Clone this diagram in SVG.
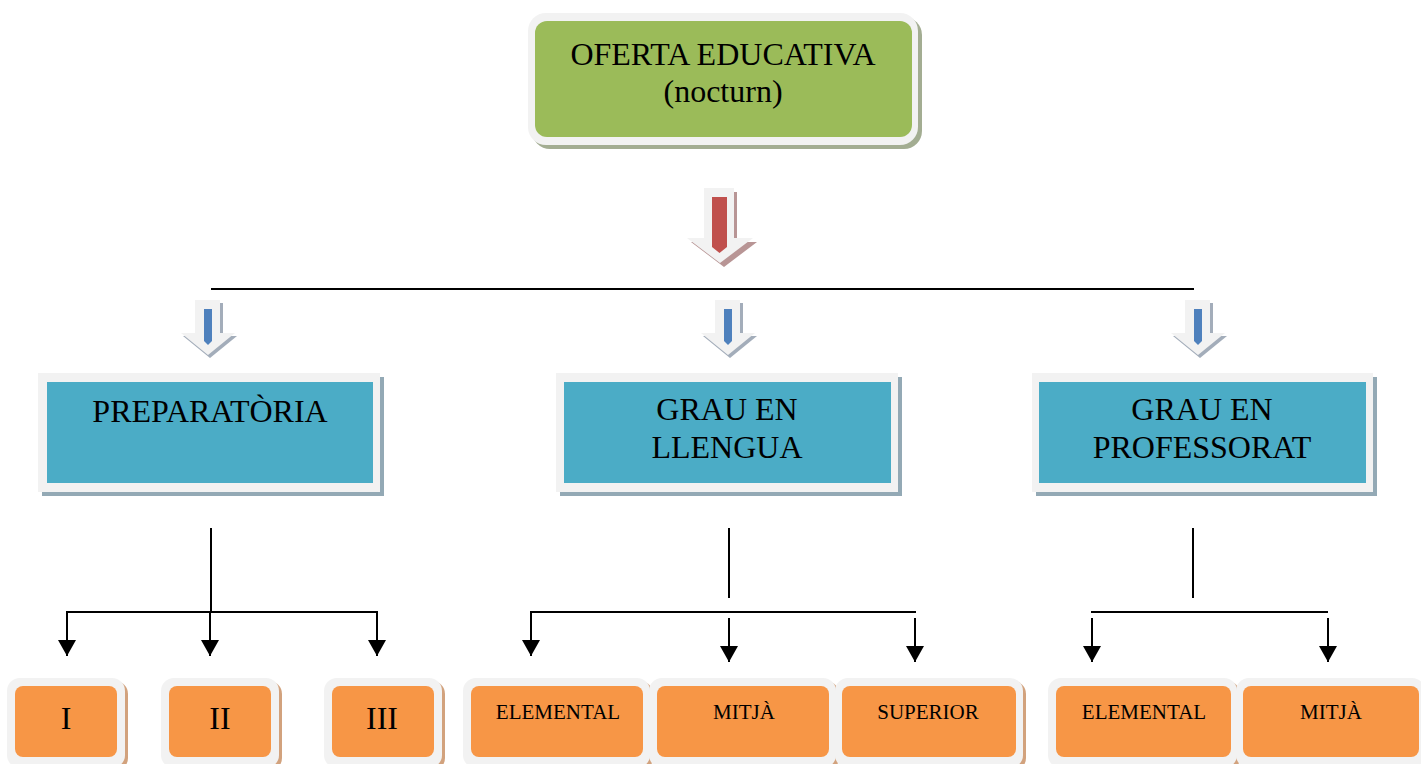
<svg xmlns="http://www.w3.org/2000/svg" width="1421" height="764" viewBox="0 0 1421 764">
<defs>
<style>
.t{font-family:"Liberation Serif","Times New Roman",serif;fill:#000;text-anchor:middle}
.big{font-size:32px}
.sm{font-size:21px}
.frame{fill:#F2F2F2}
.green{fill:#9BBB59}
.blue{fill:#4BACC6}
.orange{fill:#F79646}
.gsh{fill:#A3AD92}
.bsh{fill:#93A9B5}
.osh{fill:#D2A27D}
.ash{fill:#A3ADBA}
.ln{stroke:#000;stroke-width:2;fill:none}
.arr{stroke:#000;stroke-width:2;fill:none;marker-end:url(#ah)}
</style>
<marker id="ah" markerUnits="userSpaceOnUse" markerWidth="17" markerHeight="18" refX="16" refY="9" orient="auto">
<path d="M0,0 L16,9 L0,18 z" fill="#000"/>
</marker>
</defs>
<rect width="1421" height="764" fill="#fff"/>

<g id="oferta">
<rect class="gsh" x="532" y="17" width="390" height="132" rx="18"/>
<rect class="frame" x="528" y="13" width="390" height="132" rx="18"/>
<rect class="green" x="535" y="21" width="377" height="116" rx="12"/>
<text class="t big" x="723" y="65">OFERTA EDUCATIVA</text>
<text class="t big" x="723" y="102">(nocturn)</text>
</g>

<g id="arrow-main">
<path d="M707,192 h30 v50 h20 l-33,25 l-33,-25 h16 z" fill="#B89595"/>
<path d="M704,188 h30 v50 h19 l-33,25 l-33,-25 h17 z" fill="#F2F2F2"/>
<path d="M712,197 h15 v50 l-7.5,6 l-7.5,-6 z" fill="#C0504D"/>
</g>

<g id="arrow-blue-1">
<path d="M198,303 h25 v33 h14 l-27,22 l-27,-22 h15 z" class="ash"/>
<path d="M195,300 h25 v33 h15 l-27,22 l-27,-22 h14 z" fill="#F2F2F2"/>
<path d="M204,309 h8 v32 l-4,4 l-4,-4 z" fill="#4F81BD"/>
</g>
<g id="arrow-blue-2">
<path d="M718,303 h25 v33 h14 l-27,22 l-27,-22 h15 z" class="ash"/>
<path d="M715,300 h25 v33 h15 l-27,22 l-27,-22 h14 z" fill="#F2F2F2"/>
<path d="M724,309 h8 v32 l-4,4 l-4,-4 z" fill="#4F81BD"/>
</g>
<g id="arrow-blue-3">
<path d="M1188,303 h25 v33 h14 l-27,22 l-27,-22 h15 z" class="ash"/>
<path d="M1185,300 h25 v33 h15 l-27,22 l-27,-22 h14 z" fill="#F2F2F2"/>
<path d="M1194,309 h8 v32 l-4,4 l-4,-4 z" fill="#4F81BD"/>
</g>

<g id="preparatoria">
<rect class="bsh" x="42" y="377" width="342" height="119"/>
<rect class="frame" x="38" y="373" width="342" height="119"/>
<rect class="blue" x="47" y="382" width="326" height="101"/>
<text class="t big" x="210" y="422">PREPARATÒRIA</text>
</g>
<g id="grau-llengua">
<rect class="bsh" x="560" y="377" width="342" height="119"/>
<rect class="frame" x="556" y="373" width="342" height="119"/>
<rect class="blue" x="564" y="382" width="327" height="101"/>
<text class="t big" x="727" y="420">GRAU EN</text>
<text class="t big" x="727" y="458">LLENGUA</text>
</g>
<g id="grau-professorat">
<rect class="bsh" x="1036" y="377" width="341" height="119"/>
<rect class="frame" x="1032" y="373" width="341" height="119"/>
<rect class="blue" x="1039" y="382" width="327" height="101"/>
<text class="t big" x="1202" y="420">GRAU EN</text>
<text class="t big" x="1202" y="458">PROFESSORAT</text>
</g>

<g id="connectors">
<line class="ln" x1="211" y1="289" x2="1194" y2="289"/>
<line class="ln" x1="211" y1="528" x2="211" y2="612"/>
<line class="ln" x1="67" y1="612" x2="377" y2="612"/>
<line class="arr" x1="67" y1="611" x2="67" y2="656"/>
<line class="arr" x1="210" y1="612" x2="210" y2="656"/>
<line class="arr" x1="377" y1="611" x2="377" y2="656"/>
<line class="ln" x1="729" y1="528" x2="729" y2="598"/>
<line class="ln" x1="531" y1="612" x2="916" y2="612"/>
<line class="arr" x1="531" y1="611" x2="531" y2="656"/>
<line class="arr" x1="729" y1="618" x2="729" y2="662"/>
<line class="arr" x1="915" y1="618" x2="915" y2="662"/>
<line class="ln" x1="1193" y1="528" x2="1193" y2="598"/>
<line class="ln" x1="1091" y1="612" x2="1328" y2="612"/>
<line class="arr" x1="1092" y1="618" x2="1092" y2="662"/>
<line class="arr" x1="1328" y1="618" x2="1328" y2="662"/>
</g>

<g id="prep-I">
<rect class="osh" x="10" y="681" width="118" height="90" rx="13"/>
<rect class="frame" x="7" y="678" width="118" height="90" rx="13"/>
<rect class="orange" x="15" y="686" width="102" height="71" rx="8"/>
<text class="t big" x="66" y="729">I</text>
</g>
<g id="prep-II">
<rect class="osh" x="164" y="681" width="118" height="90" rx="13"/>
<rect class="frame" x="161" y="678" width="118" height="90" rx="13"/>
<rect class="orange" x="169" y="686" width="102" height="71" rx="8"/>
<text class="t big" x="220" y="729">II</text>
</g>
<g id="prep-III">
<rect class="osh" x="327" y="681" width="118" height="90" rx="13"/>
<rect class="frame" x="324" y="678" width="118" height="90" rx="13"/>
<rect class="orange" x="332" y="686" width="102" height="71" rx="8"/>
<text class="t big" x="382" y="729">III</text>
</g>

<g id="llengua-elemental">
<rect class="osh" x="466" y="681" width="187" height="90" rx="13"/>
<rect class="frame" x="463" y="678" width="187" height="90" rx="13"/>
<rect class="orange" x="471" y="686" width="172" height="71" rx="8"/>
<text class="t sm" x="558" y="719">ELEMENTAL</text>
</g>
<g id="llengua-mitja">
<rect class="osh" x="652" y="681" width="187" height="90" rx="13"/>
<rect class="frame" x="649" y="678" width="187" height="90" rx="13"/>
<rect class="orange" x="657" y="686" width="172" height="71" rx="8"/>
<text class="t sm" x="744" y="719">MITJÀ</text>
</g>
<g id="llengua-superior">
<rect class="osh" x="838" y="681" width="188" height="90" rx="13"/>
<rect class="frame" x="835" y="678" width="188" height="90" rx="13"/>
<rect class="orange" x="842" y="686" width="174" height="71" rx="8"/>
<text class="t sm" x="928" y="719">SUPERIOR</text>
</g>

<g id="prof-elemental">
<rect class="osh" x="1051" y="681" width="189" height="90" rx="13"/>
<rect class="frame" x="1048" y="678" width="189" height="90" rx="13"/>
<rect class="orange" x="1056" y="686" width="175" height="71" rx="8"/>
<text class="t sm" x="1144" y="719">ELEMENTAL</text>
</g>
<g id="prof-mitja">
<rect class="osh" x="1239" y="681" width="189" height="90" rx="13"/>
<rect class="frame" x="1236" y="678" width="189" height="90" rx="13"/>
<rect class="orange" x="1243" y="686" width="176" height="71" rx="8"/>
<text class="t sm" x="1331" y="719">MITJÀ</text>
</g>
</svg>
